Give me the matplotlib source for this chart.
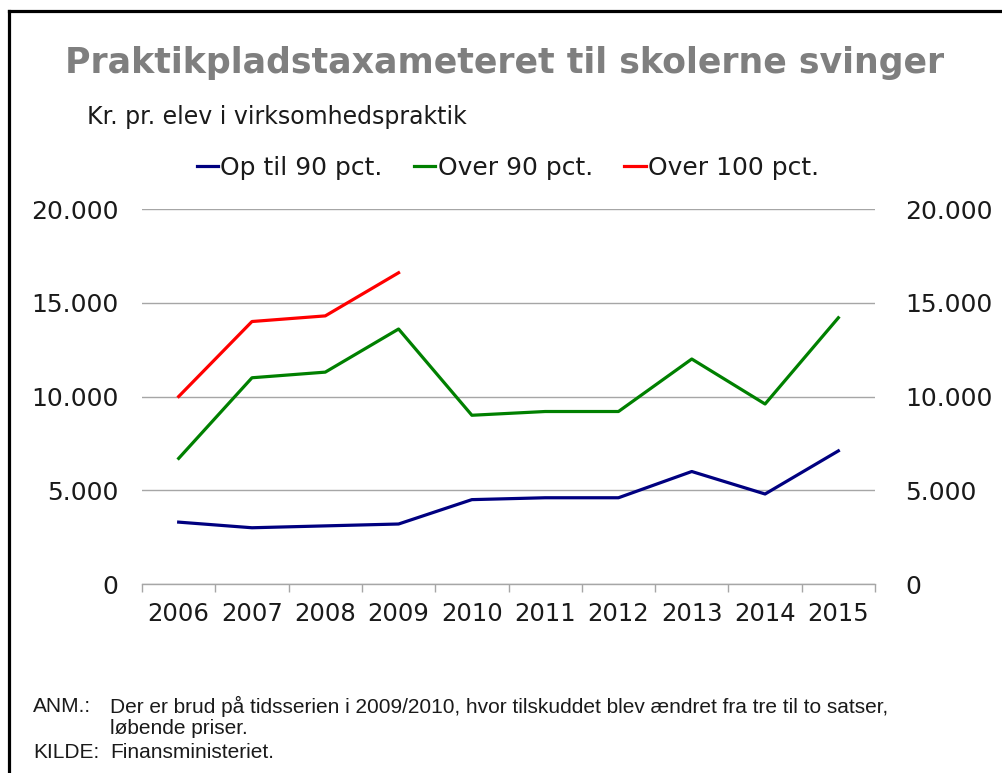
import matplotlib

matplotlib.use("Agg")
import matplotlib.pyplot as plt
from matplotlib.lines import Line2D
from matplotlib.ticker import FixedLocator

# Praktikpladstaxameter, kr. pr. elev i virksomhedspraktik
years = ["2006", "2007", "2008", "2009", "2010", "2011", "2012", "2013", "2014", "2015"]
op_til_90 = [3300, 3000, 3100, 3200, 4500, 4600, 4600, 6000, 4800, 7100]
over_90 = [6700, 11000, 11300, 13600, 9000, 9200, 9200, 12000, 9600, 14200]
over_100 = [10000, 14000, 14300, 16600]          # only reported until the 2009/2010 break

y_ticks = [0, 5000, 10000, 15000, 20000]
y_labels = ["0", "5.000", "10.000", "15.000", "20.000"]

GRID = "#a6a6a6"
TEXT = "#1a1a1a"

fig = plt.figure(figsize=(10.03, 7.73), dpi=100)
ax = fig.add_axes([0.1416, 0.2445, 0.7308, 0.4851])

x = list(range(len(years)))
ax.plot(x, op_til_90, color="#000080", lw=2.3, label="Op til 90 pct.")
ax.plot(x, over_90, color="#008000", lw=2.3, label="Over 90 pct.")
ax.plot(x[:len(over_100)], over_100, color="#ff0000", lw=2.3, label="Over 100 pct.")

ax.set_xlim(-0.5, len(years) - 0.5)
ax.set_ylim(0, 20000)

# y axis labelled on both sides, grid only
ax.set_yticks(y_ticks)
ax.set_yticklabels(y_labels)
ax.tick_params(axis="y", length=0, labelsize=18, labelcolor=TEXT,
               left=False, right=False, labelleft=True, labelright=False, pad=17)
ax.grid(axis="y", color=GRID, lw=1)
ax.set_axisbelow(True)
for s in ("top", "left", "right"):
    ax.spines[s].set_visible(False)
ax.spines["bottom"].set_color(GRID)
ax.spines["bottom"].set_linewidth(1)

rax = ax.twinx()
rax.set_ylim(ax.get_ylim())
rax.set_yticks(y_ticks)
rax.set_yticklabels(y_labels)
rax.tick_params(axis="y", length=0, labelsize=18, labelcolor=TEXT, pad=22)
for s in rax.spines.values():
    s.set_visible(False)

# category labels centred, tick marks between categories
ax.set_xticks(x)
ax.set_xticklabels(years)
ax.tick_params(axis="x", which="major", length=0, labelsize=17.5, labelcolor=TEXT, pad=13)
ax.xaxis.set_minor_locator(FixedLocator([i - 0.5 for i in range(len(years) + 1)]))
ax.tick_params(axis="x", which="minor", length=6, width=1, color=GRID, direction="out")

leg = ax.legend(loc="center", bbox_to_anchor=(508 / 1003, 1 - 168 / 773),
                bbox_transform=fig.transFigure, ncol=3, frameon=False,
                fontsize=18, handlelength=0.85, handletextpad=0.1,
                columnspacing=1.25, borderpad=0)
for t in leg.get_texts():
    t.set_color(TEXT)

fig.text(505 / 1003, 1 - 63 / 773, "Praktikpladstaxameteret til skolerne svinger",
         ha="center", va="center", fontsize=25, fontweight="bold", color="#7f7f7f")
fig.text(87 / 1003, 1 - 117 / 773, "Kr. pr. elev i virksomhedspraktik",
         ha="left", va="center", fontsize=17, color=TEXT)

foot = dict(fontsize=15, color=TEXT, va="center", family="Liberation Sans")
fig.text(33 / 1003, 1 - 706 / 773, "ANM.:", **foot)
fig.text(110 / 1003, 1 - 706 / 773,
         "Der er brud på tidsserien i 2009/2010, hvor tilskuddet blev ændret fra tre til to satser,",
         **foot)
fig.text(110 / 1003, 1 - 729 / 773, "løbende priser.", **foot)
fig.text(33 / 1003, 1 - 752 / 773, "KILDE:", **foot)
fig.text(110 / 1003, 1 - 752 / 773, "Finansministeriet.", **foot)

# frame on top and left edge
fig.add_artist(Line2D([9 / 1003, 1], [1 - 11 / 773, 1 - 11 / 773],
                      transform=fig.transFigure, color="black", lw=2.3))
fig.add_artist(Line2D([9 / 1003, 9 / 1003], [0, 1 - 11 / 773],
                      transform=fig.transFigure, color="black", lw=2.3))

fig.savefig("out.png", dpi=100)
